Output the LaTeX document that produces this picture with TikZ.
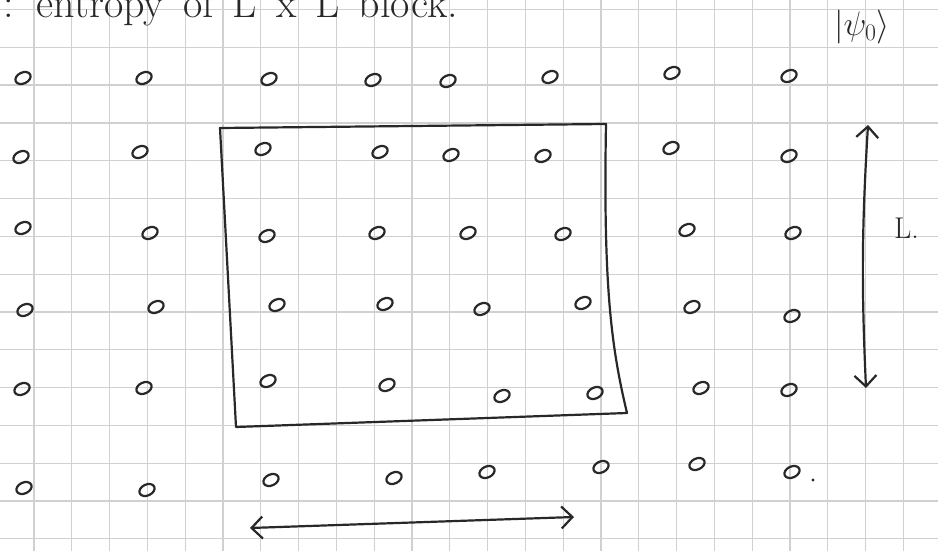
\RequirePackage{fix-cm}
\documentclass[tikz,border=0pt]{standalone}
\usepackage{tikz}
\usetikzlibrary{shapes.geometric,arrows.meta}
\definecolor{gridgrey}{RGB}{208,208,208}
\definecolor{pencil}{RGB}{40,40,40}

\begin{document}
\begin{tikzpicture}[x=1pt,y=-1pt,
    site/.style={draw=pencil,ellipse,line width=2.2pt,minimum width=16pt,minimum height=11pt,inner sep=0pt,rotate=25},
    ink/.style={draw=pencil,line width=2.2pt,line cap=round,line join=round},
    span/.style={ink,{Straight Barb[length=11pt,width=22pt]}-{Straight Barb[length=11pt,width=22pt]}}]
  \useasboundingbox (0,0) rectangle (938,551);
  \clip (0,0) rectangle (938,551);
  \fill[white] (0,0) rectangle (938,551);
  % squared paper
  \foreach \k in {0,...,25} \draw[gridgrey,line width=1.2pt] ({-3.8+37.8*\k},0) -- ++(0,551);
  \foreach \k in {0,...,14} \draw[gridgrey,line width=1.2pt] (0,{9.5+37.8*\k}) -- ++(938,0);
  % heading, cut at the top edge
  \node[pencil,font=\fontsize{42}{48}\selectfont,anchor=base west,inner sep=0pt] (title) at (3,18) {\spaceskip=19pt\relax : entropy of L x L block.};
  \node[pencil,font=\fontsize{34}{40}\selectfont] (psi) at (862,27) {$|\psi_0\rangle$};
  % lattice sites, row by row
  \foreach \x/\y [count=\n] in {23/78,144/78,269/79,373/80,448/81,550/77,672/73,789/76,
      21/157,140/152,263/149,380/152,451/155,543/156,671/148,789/156,
      23/228,150/233,267/236,377/233,468/233,563/234,687/230,793/233,
      25/310,156/307,277/305,385/304,482/309,583/303,692/307,792/316,
      22/389,144/388,268/381,387/385,502/396,595/393,701/388,789/390,
      24/488,147/490,271/480,394/478,487/472,601/467,697/464,792/472}
    \node[site] (s\n) at (\x,\y) {};
  \fill[pencil] (813,480) circle (1.6pt);
  % the L x L block
  \coordinate (tl) at (220,128);
  \coordinate (tr) at (606,124);
  \coordinate (br) at (627,413);
  \coordinate (bl) at (236,427);
  \draw[ink] (tl) -- (tr) .. controls (603,290) and (612,350) .. (br) -- (bl) -- cycle;
  % side lengths
  \coordinate (vtop) at (868,125);
  \coordinate (vbot) at (866,388);
  \draw[span] (vtop) to[bend right=3] (vbot);
  \node[pencil,font=\fontsize{30}{34}\selectfont,anchor=base west,inner sep=0pt] (len) at (894,238) {L.};
  \coordinate (hleft) at (250,528);
  \coordinate (hright) at (574,517);
  \draw[span] (hleft) -- (hright);
\end{tikzpicture}
\end{document}
